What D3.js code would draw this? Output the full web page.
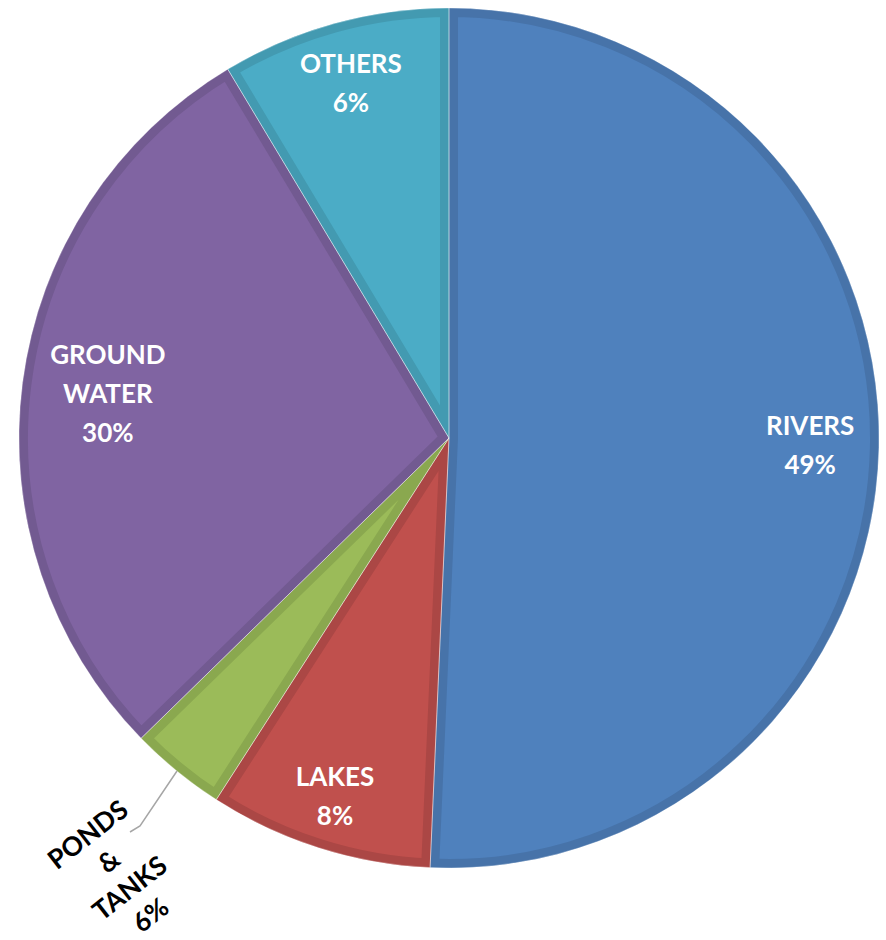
<!DOCTYPE html>
<html>
<head>
<meta charset="utf-8">
<script src="https://cdn.jsdelivr.net/npm/d3@7"></script>
<style>
  body { margin: 0; background: #fff; }
  text { font-family: Lato, "Open Sans", sans-serif; font-weight: bold; }
</style>
</head>
<body>
<svg id="chart" width="886" height="940"></svg>
<script>
// slice sizes (share of the circle, %)
const categories = ['RIVERS', 'LAKES', 'PONDS & TANKS', 'GROUND WATER', 'OTHERS'];
const values = [50.7, 8.4, 3.6, 28.7, 8.6];
// percentages as printed on the labels
const labelPercents = ['49%', '8%', '6%', '30%', '6%'];
const labelLines = [['RIVERS'], ['LAKES'], ['PONDS', '&', 'TANKS'], ['GROUND', 'WATER'], ['OTHERS']];

const fills = ['#4F81BD', '#C0504D', '#9BBB59', '#8064A2', '#4BACC6'];
const borders = ['#4773A9', '#AB4745', '#8AA84F', '#725A91', '#439AB1'];

const cx = 449;
const cy = 438;
const radius = 430;
// label distance from the centre, as a fraction of the radius
const labelRadius = [0.84, 0.875, 1.30, 0.80, 0.855];

const svg = d3.select('#chart');
const g = svg.append('g').attr('transform', `translate(${cx},${cy})`);

const pie = d3.pie().sort(null).value((d) => d);
const arcs = pie(values);
const arc = d3.arc().innerRadius(0).outerRadius(radius);

const defs = svg.append('defs');
arcs.forEach((a, i) =>
{
    defs.append('clipPath').attr('id', `clip${i}`)
        .append('path').attr('d', arc(a));
});

g.selectAll('path.slice')
    .data(arcs)
    .join('path')
    .attr('class', 'slice')
    .attr('d', arc)
    .attr('fill', (d, i) => fills[i])
    .attr('stroke', (d, i) => borders[i])
    .attr('stroke-width', 18)
    .attr('stroke-linejoin', 'miter')
    .attr('clip-path', (d, i) => `url(#clip${i})`);

// thin separators between the slices
g.selectAll('path.sep')
    .data(arcs)
    .join('path')
    .attr('class', 'sep')
    .attr('d', arc)
    .attr('fill', 'none')
    .attr('stroke', '#ffffff')
    .attr('stroke-opacity', 0.35)
    .attr('stroke-width', 1);

// labels
arcs.forEach((a, i) =>
{
    const mid = (a.startAngle + a.endAngle) / 2;
    const r = radius * labelRadius[i];
    const outside = labelRadius[i] > 1;
    // the outside label sits a little to the right of its radial line
    const x = Math.sin(mid) * r + (outside ? 24 : 0);
    const y = -Math.cos(mid) * r + (outside ? 4 : 0);
    const lines = labelLines[i].concat([labelPercents[i]]);
    const lh = outside ? 34 : 39;
    const t = g.append('text')
        .attr('text-anchor', 'middle')
        .attr('font-size', outside ? 26.5 : 26)
        .attr('fill', outside ? '#000000' : '#ffffff')
        .attr('transform', `translate(${x},${y})${outside ? ' rotate(-38)' : ''}`);
    lines.forEach((line, k) =>
    {
        t.append('tspan')
            .attr('x', 0)
            .attr('y', (k - (lines.length - 1) / 2) * lh + 9)
            .text(line);
    });
});

// leader line for the small slice
const ponds = arcs[2];
const pm = (ponds.startAngle + ponds.endAngle) / 2;
const p0 = [Math.sin(pm) * radius, -Math.cos(pm) * radius];
g.append('path')
    .attr('d', d3.line()([p0, [140 - cx, 826 - cy], [130 - cx, 832 - cy]]))
    .attr('fill', 'none')
    .attr('stroke', '#A6A6A6')
    .attr('stroke-width', 1.5);
</script>
</body>
</html>
